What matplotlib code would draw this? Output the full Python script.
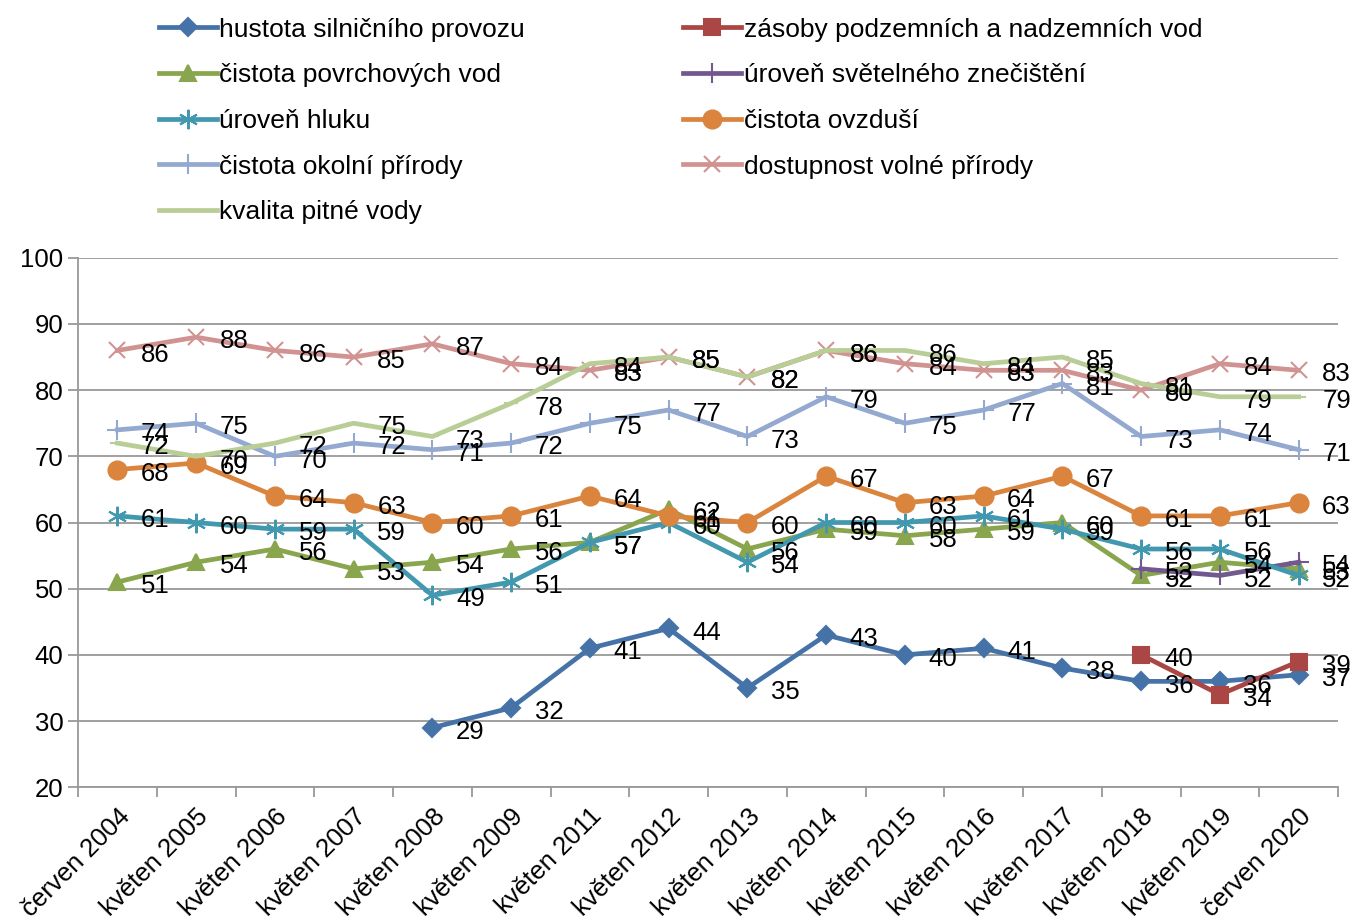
import matplotlib.pyplot as plt
import numpy as np

plt.rcParams['font.family'] = ['Liberation Sans', 'DejaVu Sans']

nan = np.nan
periods = ["červen 2004", "květen 2005", "květen 2006", "květen 2007", "květen 2008",
           "květen 2009", "květen 2011", "květen 2012", "květen 2013", "květen 2014",
           "květen 2015", "květen 2016", "květen 2017", "květen 2018", "květen 2019",
           "červen 2020"]

hustota = [nan, nan, nan, nan, 29, 32, 41, 44, 35, 43, 40, 41, 38, 36, 36, 37]
zasoby = [nan] * 13 + [40, 34, 39]
povrch_vody = [51, 54, 56, 53, 54, 56, 57, 62, 56, 59, 58, 59, 60, 52, 54, 53]
svetelne = [nan] * 13 + [53, 52, 54]
hluk = [61, 60, 59, 59, 49, 51, 57, 60, 54, 60, 60, 61, 59, 56, 56, 52]
ovzdusi = [68, 69, 64, 63, 60, 61, 64, 61, 60, 67, 63, 64, 67, 61, 61, 63]
okolni = [74, 75, 70, 72, 71, 72, 75, 77, 73, 79, 75, 77, 81, 73, 74, 71]
dostupnost = [86, 88, 86, 85, 87, 84, 83, 85, 82, 86, 84, 83, 83, 80, 84, 83]
pitna_voda = [72, 70, 72, 75, 73, 78, 84, 85, 82, 86, 86, 84, 85, 81, 79, 79]

# label, values, colour, marker, marker size
series = [
    ("hustota silničního provozu", hustota, "#4572A7", "D", 9),
    ("zásoby podzemních a nadzemních vod", zasoby, "#AA4643", "s", 11),
    ("čistota povrchových vod", povrch_vody, "#89A54E", "^", 12),
    ("úroveň světelného znečištění", svetelne, "#71588F", "+", 14),
    ("úroveň hluku", hluk, "#4198AF", (6, 2, 0), 14),
    ("čistota ovzduší", ovzdusi, "#DB843D", "o", 13),
    ("čistota okolní přírody", okolni, "#93A9CF", "+", 14),
    ("dostupnost volné přírody", dostupnost, "#D19392", "x", 12),
    ("kvalita pitné vody", pitna_voda, "#B9CD96", "_", 10),
]

fig = plt.figure(figsize=(13.57, 9.24), dpi=100)
ax = fig.add_axes([0.0575, 0.148, 0.9285, 0.573])

x = np.arange(len(periods))
handles = {}
for name, vals, col, mk, ms in series:
    vals = np.array(vals, dtype=float)
    ln, = ax.plot(x, vals, color=col, linewidth=3.4, marker=mk, markersize=ms,
                  markeredgewidth=1.5, label=name)
    handles[name] = ln
    for xi, v in zip(x, vals):
        if np.isnan(v):
            continue
        ax.annotate("%d" % v, (xi, v), xytext=(17, -3), textcoords="offset points",
                    ha="left", va="center", fontsize=18.5, color="black")

ax.set_xlim(-0.5, len(periods) - 0.5)
ax.set_ylim(20, 100)
ax.set_yticks(range(20, 101, 10))
ax.yaxis.grid(True, color="#999999", linewidth=1.3)
ax.set_axisbelow(True)
ax.set_xticks(x)
ax.set_xticklabels(periods, rotation=45, ha="right", rotation_mode="anchor", fontsize=18.5)
ax.set_xticks(np.arange(-0.5, len(periods)), minor=True)
ax.tick_params(axis="x", which="major", length=0, pad=12)
ax.tick_params(axis="x", which="minor", length=7, color="#999999", width=1.3)
ax.tick_params(axis="y", labelsize=18.5, length=7, color="#999999", width=1.3)
for s in ["top", "right"]:
    ax.spines[s].set_visible(False)
for s in ["left", "bottom"]:
    ax.spines[s].set_color("#999999")
    ax.spines[s].set_linewidth(1.3)

order = ["hustota silničního provozu", "čistota povrchových vod", "úroveň hluku",
         "čistota okolní přírody", "kvalita pitné vody",
         "zásoby podzemních a nadzemních vod", "úroveň světelného znečištění",
         "čistota ovzduší", "dostupnost volné přírody"]
fig.legend([handles[n] for n in order], order, ncol=2, loc="upper left",
           bbox_to_anchor=(0.112, 0.988), frameon=False, fontsize=19,
           handlelength=2.2, handletextpad=0.1, labelspacing=0.82,
           columnspacing=6.0, borderaxespad=0, borderpad=0.25)

fig.savefig("out.png", dpi=100)
